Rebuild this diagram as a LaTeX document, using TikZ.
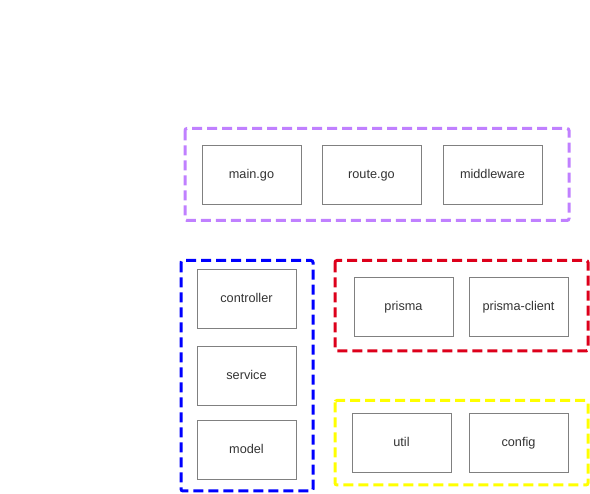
\documentclass[tikz,border=0pt]{standalone}
\usepackage{fontspec}
\setmainfont{Liberation Sans}
\usetikzlibrary{positioning}

\definecolor{grpPurple}{RGB}{192,128,255}
\definecolor{grpBlue}{RGB}{0,0,255}
\definecolor{grpRed}{RGB}{221,0,27}
\definecolor{grpYellow}{RGB}{255,255,0}
\definecolor{boxLine}{RGB}{128,128,128}
\definecolor{boxText}{RGB}{51,51,51}

\tikzset{
    pkg/.style={draw=boxLine,line width=1pt,minimum width=99pt,minimum height=59pt,
        inner sep=0pt,text height=9pt,text depth=2.5pt,text=boxText,
        font=\fontsize{12.7}{15}\selectfont},
    group/.style={line width=3pt,dash pattern=on 10pt off 5pt,rounded corners=2pt}
}

\begin{document}
\begin{tikzpicture}[x=1pt,y=-1pt]
    \useasboundingbox (0,0) rectangle (590,494);
    % groups
    \draw[group,grpPurple] (185,128.5) rectangle (569,220.5);
    \draw[group,grpBlue] (181,260.5) rectangle (313,491);
    \draw[group,grpRed] (335,260.5) rectangle (588,351);
    \draw[group,grpYellow] (335,400.5) rectangle (588,485);
    % entry
    \node[pkg] (main) at (251.5,175) {main.go};
    \node[pkg] (route) at (371.5,175) {route.go};
    \node[pkg] (middleware) at (492.5,175) {middleware};
    % layers
    \node[pkg] (controller) at (246.5,299) {controller};
    \node[pkg] (service) at (246.5,376) {service};
    \node[pkg] (model) at (246.5,450) {model};
    % database
    \node[pkg] (prisma) at (403.5,307) {prisma};
    \node[pkg] (client) at (518.5,307) {prisma-client};
    % tools
    \node[pkg] (util) at (401.5,443) {util};
    \node[pkg] (config) at (518.5,443) {config};
\end{tikzpicture}
\end{document}
